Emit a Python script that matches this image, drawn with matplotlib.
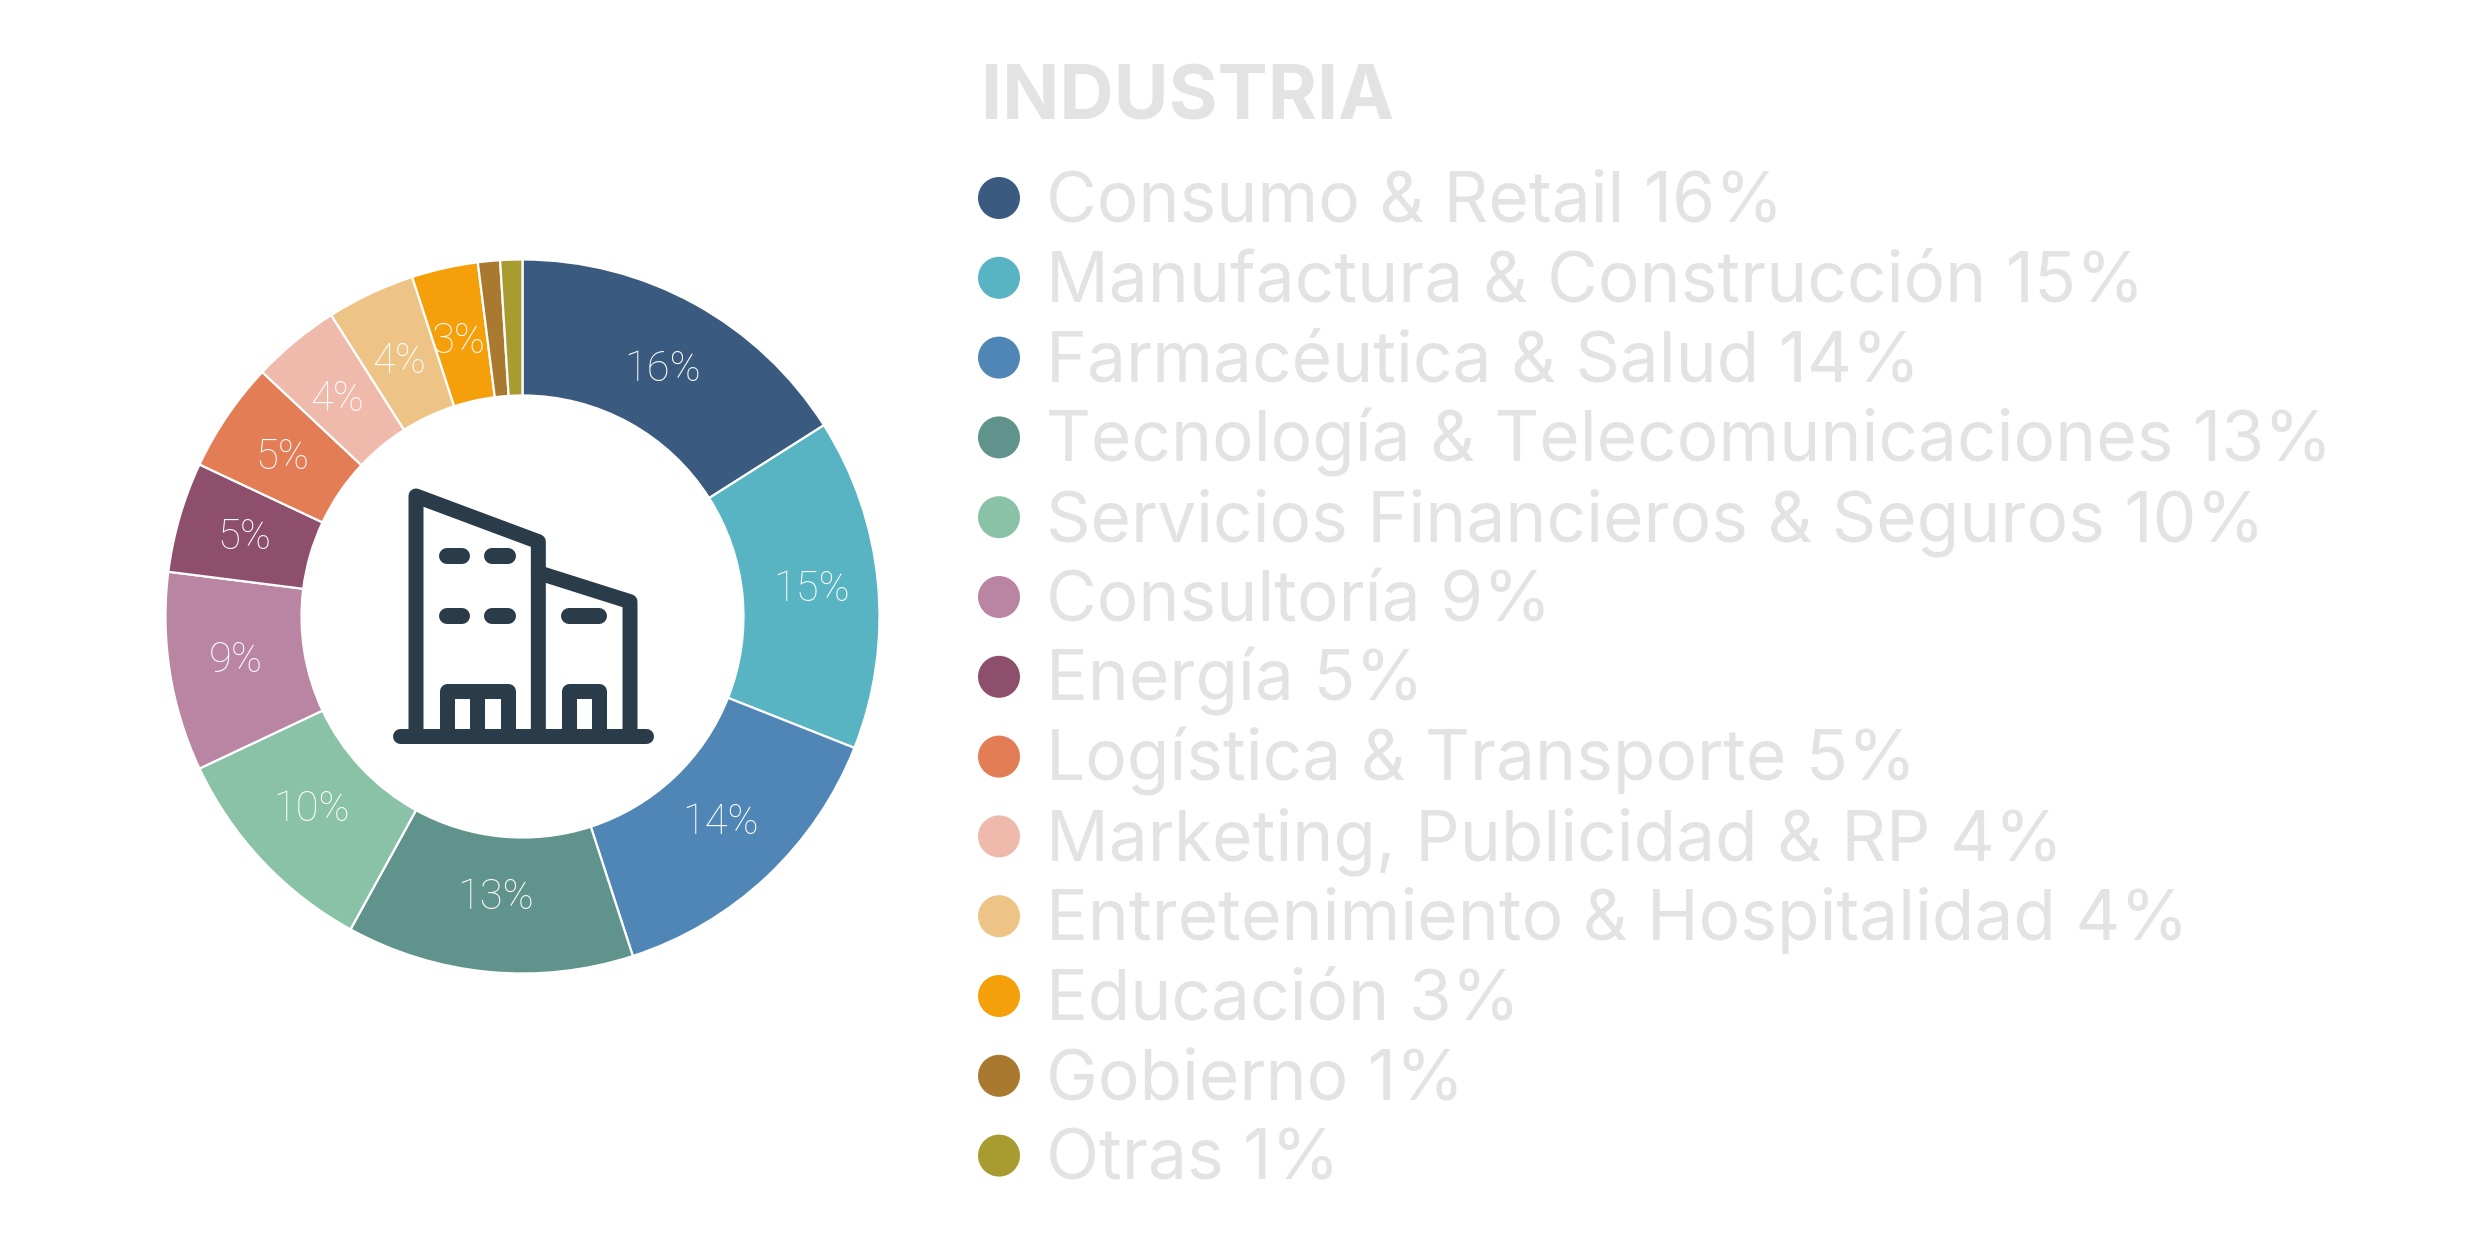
import numpy as np
import matplotlib
matplotlib.use('Agg')
import matplotlib.pyplot as plt

plt.rcParams['font.family'] = ['Inter', 'DejaVu Sans']

categories = ['Consumo & Retail', 'Manufactura & Construcción', 'Farmacéutica & Salud',
              'Tecnología & Telecomunicaciones', 'Servicios Financieros & Seguros',
              'Consultoría', 'Energía', 'Logística & Transporte',
              'Marketing, Publicidad & RP', 'Entretenimiento & Hospitalidad',
              'Educación', 'Gobierno', 'Otras']
values = [16, 15, 14, 13, 10, 9, 5, 5, 4, 4, 3, 1, 1]
show_label = [True] * 11 + [False] * 2
colors = ['#3B5A80', '#58B4C2', '#5086B5', '#5F938C', '#89C2A6', '#BA84A3', '#8E4F6D',
          '#E27D56', '#EFBAAB', '#EDC386', '#F59F0A', '#A97930', '#A89C30']
title = 'INDUSTRIA'

W, H = 2475, 1233
CX, CY, R_OUT, R_IN = 522.5, 616.5, 357, 221
GREY = '#E3E3E3'
ICON = '#2A3B4A'

fig = plt.figure(figsize=(W / 100, H / 100), dpi=100, facecolor='white')

# ring
ax = fig.add_axes([(CX - R_OUT) / W, 1 - (CY + R_OUT) / H, 2 * R_OUT / W, 2 * R_OUT / H])
wedges, _ = ax.pie(values, colors=colors, startangle=90, counterclock=False, radius=1,
                   wedgeprops=dict(width=(R_OUT - R_IN) / R_OUT, edgecolor='white', linewidth=1.6))
ax.set_xlim(-1, 1)
ax.set_ylim(-1, 1)

# labels sit a little wider than tall on the ring
rx_label, ry_label = 290 / R_OUT, 282 / R_OUT
for w, v, show in zip(wedges, values, show_label):
    if not show:
        continue
    a = np.deg2rad((w.theta1 + w.theta2) / 2)
    ax.text(rx_label * np.cos(a), ry_label * np.sin(a), f'{v}%', color='white', fontsize=30,
            family='Roboto', fontweight='light', ha='center', va='center')

# everything else in pixel coordinates
ov = fig.add_axes([0, 0, 1, 1], facecolor='none')
ov.set_xlim(0, W)
ov.set_ylim(H, 0)
ov.axis('off')

ov.text(981, 120, title, color=GREY, fontsize=54, fontweight='bold', va='baseline')

row_y = 198 + 79.8 * np.arange(len(categories))
ov.scatter([999] * len(categories), row_y, s=914, c=colors, linewidths=0)
for y, cat, v in zip(row_y, categories, values):
    ov.text(1046, y + 24, f'{cat} {v}%', color=GREY, fontsize=50, va='baseline')


# building icon, strokes
def stroke(points, width=15):
    xs, ys = zip(*points)
    ov.plot(360 + np.array(xs) / 3, 460 + np.array(ys) / 3, color=ICON, lw=width * 0.72,
            solid_capstyle='round', solid_joinstyle='round')


stroke([(168, 828), (168, 108), (535, 245), (535, 828)])
stroke([(535, 338), (810, 425), (810, 828)])
stroke([(120, 828), (858, 828)])
for seg in ([(260, 287), (305, 287)], [(397, 287), (443, 287)], [(260, 469), (305, 469)],
            [(397, 469), (443, 469)], [(628, 469), (716, 469)]):
    stroke(seg, 16)
stroke([(260, 828), (260, 694), (443, 694), (443, 828)])
stroke([(352, 694), (352, 828)])
stroke([(627, 828), (627, 694), (717, 694), (717, 828)])

fig.savefig('out.png', dpi=100)
